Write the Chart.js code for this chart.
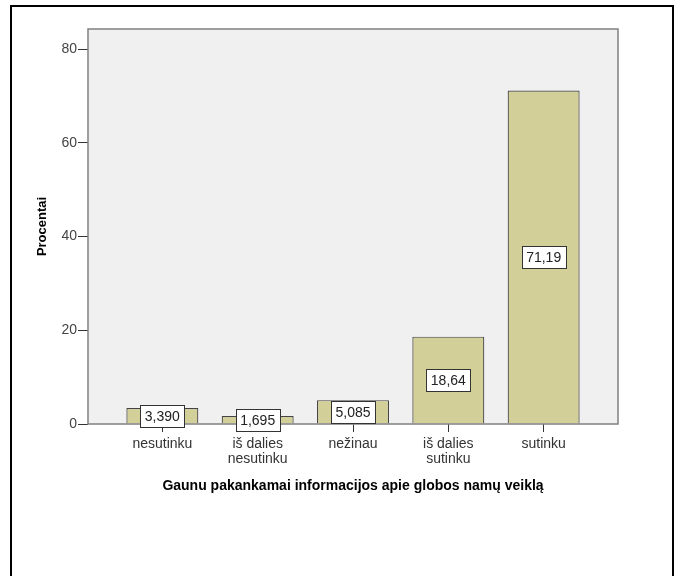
<!DOCTYPE html>
<html>
<head>
<meta charset="utf-8">
<script src="https://cdn.jsdelivr.net/npm/chart.js@4"></script>
<style>
  body { margin: 0; background: #fff; }
  canvas { display: block; }
</style>
</head>
<body>
<canvas id="grafikas" width="680" height="576"></canvas>
<script>
const kategorijos = [["nesutinku"], ["iš dalies", "nesutinku"], ["nežinau"], ["iš dalies", "sutinku"], ["sutinku"]];
const procentai = [3.390, 1.695, 5.085, 18.64, 71.19];
const yTicks = [0, 20, 40, 60, 80];

const FONT = "'Liberation Sans', Arial, sans-serif";
const ctx = document.getElementById('grafikas');

// frame, plot background, plot border and boxed value labels
const spssPlugin = {
    id: 'spss',
    beforeDraw(chart) {
        const c = chart.ctx, a = chart.chartArea;
        c.save();
        c.fillStyle = '#f0f0f0';
        c.fillRect(a.left, a.top, a.right - a.left, a.bottom - a.top);
        c.strokeStyle = '#000';
        c.lineWidth = 2;
        c.strokeRect(11, 6, 662, 700);
        c.restore();
    },
    afterDatasetsDraw(chart) {
        const c = chart.ctx, a = chart.chartArea;
        c.save();
        c.strokeStyle = '#808080';
        c.lineWidth = 1.5;
        c.strokeRect(a.left, a.top, a.right - a.left, a.bottom - a.top);

        c.font = '14px ' + FONT;
        c.textAlign = 'center';
        c.textBaseline = 'middle';
        chart.getDatasetMeta(0).data.forEach((bar, i) => {
            const txt = procentai[i].toPrecision(4).replace('.', ',');
            const w = c.measureText(txt).width + 9;
            const h = 22;
            const cy = (bar.y + bar.base) / 2;
            c.fillStyle = '#fff';
            c.fillRect(Math.round(bar.x - w / 2) + 0.5, Math.round(cy - h / 2) + 0.5, Math.round(w), h);
            c.strokeStyle = '#333';
            c.lineWidth = 1;
            c.strokeRect(Math.round(bar.x - w / 2) + 0.5, Math.round(cy - h / 2) + 0.5, Math.round(w), h);
            c.fillStyle = '#222';
            c.fillText(txt, bar.x, cy + 1);
        });
        c.restore();
    }
};

new Chart(ctx, {
    type: 'bar',
    data: {
        datasets: [{
            data: procentai.map((v, i) => ({x: i, y: v})),
            backgroundColor: '#d3cf98',
            borderColor: '#444',
            borderWidth: 1.2,
            barPercentage: 0.755,
            categoryPercentage: 1
        }]
    },
    options: {
        responsive: false,
        animation: false,
        layout: {padding: {top: 29, right: 62, left: 0, bottom: 0}},
        plugins: {
            legend: {display: false},
            tooltip: {enabled: false}
        },
        scales: {
            x: {
                type: 'linear',
                min: -0.78,
                max: 4.78,
                offset: false,
                afterBuildTicks(scale) {
                    scale.ticks = kategorijos.map((k, i) => ({value: i}));
                },
                afterFit(scale) { scale.height = 152; },
                border: {display: false},
                grid: {offset: false, drawOnChartArea: false, drawTicks: true, tickLength: 8, color: '#333'},
                ticks: {
                    autoSkip: false,
                    maxRotation: 0,
                    padding: 4,
                    color: '#333',
                    font: {family: FONT, size: 14, lineHeight: 1.1},
                    callback: (v) => kategorijos[v]
                },
                title: {
                    display: true,
                    text: 'Gaunu pakankamai informacijos apie globos namų veiklą',
                    color: '#000',
                    font: {family: FONT, size: 14, weight: 'bold', lineHeight: 1.2},
                    padding: {top: 4, bottom: 81}
                }
            },
            y: {
                min: 0,
                max: 84.3,
                afterBuildTicks(scale) {
                    scale.ticks = yTicks.map(v => ({value: v}));
                },
                afterFit(scale) { scale.width = 88; },
                border: {display: false},
                grid: {drawOnChartArea: false, drawTicks: true, tickLength: 10, color: '#333'},
                ticks: {
                    padding: 1,
                    color: '#444',
                    font: {family: FONT, size: 14}
                },
                title: {
                    display: true,
                    text: 'Procentai',
                    color: '#000',
                    font: {family: FONT, size: 13, weight: 'bold', lineHeight: 1.2},
                    padding: {top: 35, bottom: 0}
                }
            }
        }
    },
    plugins: [spssPlugin]
});
</script>
</body>
</html>
